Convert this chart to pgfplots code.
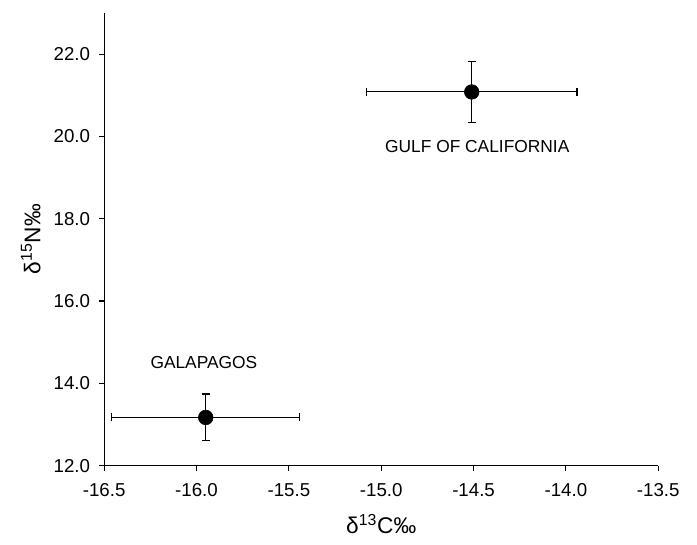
\documentclass[border=0pt]{standalone}
\usepackage{fontspec}
\setmainfont{Liberation Sans}
\usepackage{pgfplots}
\pgfplotsset{compat=1.18}

\begin{document}
\begin{tikzpicture}
\begin{axis}[
    name=ax,
    scale only axis,
    width=415pt, height=339pt,
    xmin=-16.5, xmax=-13.5,
    ymin=12, ymax=23,
    axis x line=bottom, axis y line=left,
    axis line style={-, line width=0.9pt},
    xtick={-16.5,-16,-15.5,-15,-14.5,-14,-13.5},
    ytick={12,14,16,18,20,22},
    tick align=outside,
    major tick length=4pt,
    tick style={line width=0.8pt, black},
    /pgf/number format/.cd, fixed, fixed zerofill, precision=1, assume math mode=true,
    /pgfplots/.cd,
    ticklabel style={font=\fontsize{14}{16}\selectfont},
    yticklabel style={xshift=-3pt},
    xticklabel style={yshift=-6pt},
    xlabel={δ\textsuperscript{13}C‰},
    ylabel={δ\textsuperscript{15}N‰},
    label style={font=\fontsize{17}{19}\selectfont},
    xlabel style={yshift=-6pt},
    ylabel style={yshift=3pt},
    clip=false,
]
\addplot[only marks, mark=*, mark size=5.5pt, black,
    error bars/.cd,
        x dir=both, x explicit,
        y dir=both, y explicit,
        error bar style={line width=0.8pt, black},
        error mark options={rotate=90, mark size=3pt, line width=0.8pt, black},
] table[x=x, y=y, x error=ex, y error=ey] {
x      y      ex    ey
-15.95 13.17  0.51  0.57
-14.51 21.08  0.57  0.74
};
\node[font=\fontsize{13}{15}\selectfont] at (axis cs:-14.48,19.76) {GULF OF CALIFORNIA};
\node[font=\fontsize{13}{15}\selectfont] at (axis cs:-15.96,14.51) {GALAPAGOS};
\end{axis}
\pgfresetboundingbox
\path ([shift={(-78pt,-59pt)}]ax.south west) rectangle ([shift={(29pt,9.7pt)}]ax.north east);
\end{tikzpicture}
\end{document}
